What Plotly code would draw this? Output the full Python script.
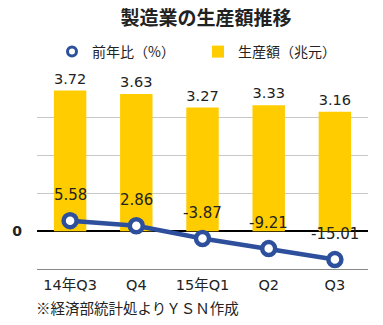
import plotly.graph_objects as go

categories = ["14年Q3", "Q4", "15年Q1", "Q2", "Q3"]
production = [3.72, 3.63, 3.27, 3.33, 3.16]      # 生産額（兆元）
yoy = [5.58, 2.86, -3.87, -9.21, -15.01]          # 前年比（%）

FONT = "DejaVu Sans, Noto Sans CJK JP, sans-serif"
CJK = "Noto Sans CJK JP, sans-serif"
BLUE = "#2d4f9c"
YELLOW = "#ffcc00"
TXT = "#222222"

fig = go.Figure()

fig.add_trace(go.Bar(
    x=categories, y=production, yaxis="y", name="生産額（兆元）",
    marker=dict(color=YELLOW, line=dict(width=0)), width=0.49,
    texttemplate="%{y:.2f}", textposition="outside",
    textfont=dict(size=15, color=TXT, family=FONT), cliponaxis=False,
    showlegend=True,
))

fig.add_trace(go.Scatter(
    x=categories, y=yoy, yaxis="y2", mode="lines+markers", name="前年比（%）",
    line=dict(color=BLUE, width=4.5),
    marker=dict(size=13, color="white", line=dict(color=BLUE, width=4.5)),
    showlegend=False, cliponaxis=False,
))
# legend-only entry (marker only)
fig.add_trace(go.Scatter(
    x=[None], y=[None], yaxis="y2", mode="markers", name="前年比（%）",
    marker=dict(size=9, color="white", line=dict(color=BLUE, width=3)),
    showlegend=True,
))

annotations = []
for c, v in zip(categories, yoy):
    annotations.append(dict(
        x=c, y=v, xref="x", yref="y2", text=f"{v:.2f}", showarrow=False,
        yshift=26, font=dict(size=15, color=TXT, family=FONT),
    ))
annotations.append(dict(
    x=0, y=(269 - 307.5) / 191, xref="paper", yref="paper", yanchor="middle",
    xanchor="left", text="※経済部統計処よりＹＳＮ作成", showarrow=False,
    font=dict(size=14.5, color=TXT, family=CJK), xshift=-3,
))

fig.update_layout(
    width=383, height=325,
    margin=dict(l=31, r=15, t=78, b=56),
    paper_bgcolor="white", plot_bgcolor="white",
    font=dict(family=FONT, color=TXT),
    title=dict(text="<b>製造業の生産額推移</b>", x=206 / 383, xref="container",
               xanchor="center", y=1 - 18 / 325, yref="container", yanchor="middle",
               font=dict(size=19, color=TXT, family=CJK)),
    legend=dict(orientation="h", x=52 / 383, xref="container", y=1 - 52 / 325,
                yref="container", yanchor="middle", xanchor="left",
                font=dict(size=14, color=TXT, family=CJK),
                traceorder="reversed", entrywidth=101, itemclick=False,
                bgcolor="rgba(0,0,0,0)"),
    xaxis=dict(type="category", range=[-0.5, 4.5], showgrid=False,
               showline=True, linecolor="#888888", linewidth=1,
               ticks="", tickfont=dict(size=14.5, color=TXT, family=FONT),
               ticklabelstandoff=3),
    yaxis=dict(range=[-1, 4], dtick=1, showgrid=True, gridcolor="#c8c8c8",
               gridwidth=1, showticklabels=False,
               zeroline=True, zerolinecolor="#000000", zerolinewidth=2,
               showline=False),
    yaxis2=dict(range=[-20, 80], overlaying="y", side="left", showgrid=False,
                tickvals=[0], ticktext=["<b>0</b>"],
                tickfont=dict(size=14, color=TXT, family=FONT),
                ticklabelstandoff=14, zeroline=False, showline=False),
    annotations=annotations,
)

fig.write_html("out.html")
